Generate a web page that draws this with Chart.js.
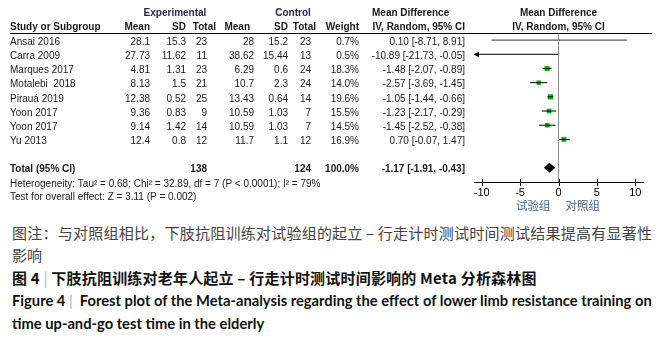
<!DOCTYPE html>
<html>
<head>
<meta charset="utf-8">
<script src="https://cdn.jsdelivr.net/npm/chart.js@4/dist/chart.umd.min.js"></script>
<style>
body{margin:0;background:#fff;width:668px;height:338px;overflow:hidden;position:relative;}
#c{position:absolute;left:0;top:0;}
.cap{position:absolute;left:12px;width:640px;margin:0;}
#note{top:222px;font:15px/22px "Noto Sans CJK SC",sans-serif;color:#444;text-align:justify;}
#title{top:267px;font:bold 15px/22px "Noto Sans CJK SC",sans-serif;color:#111;white-space:nowrap;letter-spacing:0.2px;}
#fig{top:289px;font:bold 13.5px/23px Lato,"Open Sans",sans-serif;color:#111;white-space:nowrap;}
.bar{color:#9bb3d3;font-weight:normal;}
</style>
</head>
<body>
<canvas id="c" width="668" height="215"></canvas>
<div class="cap" id="note">图注：与对照组相比，下肢抗阻训练对试验组的起立 – 行走计时测试时间测试结果提高有显著性影响</div>
<div class="cap" id="title">图 4 <span class="bar">|</span> 下肢抗阻训练对老年人起立 – 行走计时测试时间影响的 Meta 分析森林图</div>
<div class="cap" id="fig"><span id="fig1">Figure 4 <span class="bar">|</span> &nbsp;Forest plot of the Meta-analysis regarding the effect of lower limb resistance training on</span><br>time up-and-go test time in the elderly</div>
<script>
// study data
var studies = ['Ansai 2016', 'Carra 2009', 'Marques 2017', 'Motalebi  2018', 'Pirauá 2019', 'Yoon 2017', 'Yoon 2017', 'Yu 2013'];
var expMean = [28.1, 27.73, 4.81, 8.13, 12.38, 9.36, 9.14, 12.4];
var expSD = [15.3, 11.62, 1.31, 1.5, 0.52, 0.83, 1.42, 0.8];
var expTotal = [23, 11, 23, 21, 25, 9, 14, 12];
var ctlMean = [28, 38.62, 6.29, 10.7, 13.43, 10.59, 10.59, 11.7];
var ctlSD = [15.2, 15.44, 0.6, 2.3, 0.64, 1.03, 1.03, 1.1];
var ctlTotal = [23, 13, 24, 24, 14, 7, 7, 12];
var weights = [0.7, 0.5, 18.3, 14.0, 19.6, 15.5, 14.5, 16.9];
var md = [0.10, -10.89, -1.48, -2.57, -1.05, -1.23, -1.45, 0.70];
var ciLow = [-8.71, -21.73, -2.07, -3.69, -1.44, -2.17, -2.52, -0.07];
var ciHigh = [8.91, -0.05, -0.89, -1.45, -0.66, -0.29, -0.38, 1.47];

// pooled result
var totalExp = 138;
var totalCtl = 124;
var totalMd = [-1.17, -1.91, -0.43];
var heterogeneity = 'Heterogeneity: Tau² = 0.68; Chi² = 32.89, df = 7 (P < 0.0001); I² = 79%';
var overall = 'Test for overall effect: Z = 3.11 (P = 0.002)';

var tickVals = [-10, -5, 0, 5, 10];
var totalRow = 9;

var F = '"Liberation Sans", Arial, sans-serif';

function ciText(m, lo, hi) {
  return m.toFixed(2) + ' [' + lo.toFixed(2) + ', ' + hi.toFixed(2) + ']';
}

var datasets = [];
// line of no effect
datasets.push({
  data: [{x: 0, y: -0.5}, {x: 0, y: 10}],
  showLine: true, borderColor: '#8c8c8c', borderWidth: 1, pointRadius: 0
});
// confidence intervals
studies.forEach(function (s, i) {
  datasets.push({
    data: [{x: ciLow[i], y: i}, {x: ciHigh[i], y: i}],
    showLine: true, borderColor: i == 0 ? '#333' : '#000', borderWidth: 1, pointRadius: 0
  });
});
// study squares
datasets.push({
  data: md.map(function (v, i) { return {x: v, y: i}; }),
  pointStyle: 'rect',
  pointRadius: weights.map(function (w) { return Math.sqrt(w) * 0.85; }),
  backgroundColor: '#0fb20f', borderColor: '#0fb20f', borderWidth: 0,
  clip: false
});

var forestPlugin = {
  id: 'forestTable',
  afterDatasetsDraw: function (chart) {
    var ctx = chart.ctx, x = chart.scales.x, y = chart.scales.y;
    function txt(s, px, py, align, font, color) {
      ctx.font = font;
      ctx.fillStyle = color || '#1a1a1a';
      ctx.textAlign = align;
      ctx.textBaseline = 'middle';
      ctx.fillText(s, px, py);
    }
    var reg = '10px ' + F, bold = 'bold 10px ' + F;
    var zero = x.getPixelForValue(0);
    ctx.save();

    // arrows for intervals running off the axis
    ciLow.forEach(function (lo, i) {
      var py = Math.round(y.getPixelForValue(i)) + 0.5;
      if (lo < x.min) {
        ctx.fillStyle = '#000';
        ctx.beginPath();
        ctx.moveTo(x.left, py);
        ctx.lineTo(x.left + 5, py - 3);
        ctx.lineTo(x.left + 5, py + 3);
        ctx.closePath();
        ctx.fill();
      }
    });

    // pooled diamond
    var dy = y.getPixelForValue(totalRow);
    ctx.fillStyle = '#000';
    ctx.beginPath();
    ctx.moveTo(x.getPixelForValue(totalMd[1]), dy);
    ctx.lineTo(x.getPixelForValue(totalMd[0]), dy - 5);
    ctx.lineTo(x.getPixelForValue(totalMd[2]), dy);
    ctx.lineTo(x.getPixelForValue(totalMd[0]), dy + 5);
    ctx.closePath();
    ctx.fill();

    // axis ticks crossing the axis line
    ctx.strokeStyle = '#000';
    ctx.lineWidth = 1;
    tickVals.forEach(function (v) {
      var px = Math.round(x.getPixelForValue(v)) + 0.5;
      ctx.beginPath();
      ctx.moveTo(px, y.bottom - 3);
      ctx.lineTo(px, y.bottom + 4);
      ctx.stroke();
    });

    // header
    txt('Experimental', 175, 13, 'center', bold, '#2d2650');
    txt('Control', 293, 13, 'center', bold, '#2d2650');
    txt('Mean Difference', 372, 13, 'left', bold);
    txt('Mean Difference', zero, 13, 'center', bold);
    txt('Study or Subgroup', 10, 27, 'left', bold);
    txt('Mean', 150, 27, 'right', bold);
    txt('SD', 186, 27, 'right', bold);
    txt('Total', 216, 27, 'right', bold);
    txt('Mean', 250, 27, 'right', bold);
    txt('SD', 288, 27, 'right', bold);
    txt('Total', 316, 27, 'right', bold);
    txt('Weight', 359, 27, 'right', bold);
    txt('IV, Random, 95% CI', 465, 27, 'right', bold);
    txt('IV, Random, 95% CI', zero, 27, 'center', bold);
    ctx.strokeStyle = '#000';
    ctx.beginPath();
    ctx.moveTo(10, Math.round(y.top) + 0.5);
    ctx.lineTo(652, Math.round(y.top) + 0.5);
    ctx.stroke();

    // study rows
    studies.forEach(function (s, i) {
      var py = y.getPixelForValue(i) + 2;
      txt(s, 10, py, 'left', reg);
      txt(String(expMean[i]), 150, py, 'right', reg);
      txt(String(expSD[i]), 186, py, 'right', reg);
      txt(String(expTotal[i]), 207, py, 'right', reg);
      txt(String(ctlMean[i]), 254, py, 'right', reg);
      txt(String(ctlSD[i]), 288, py, 'right', reg);
      txt(String(ctlTotal[i]), 311, py, 'right', reg);
      txt(weights[i].toFixed(1) + '%', 359, py, 'right', reg);
      txt(ciText(md[i], ciLow[i], ciHigh[i]), 465, py, 'right', reg);
    });

    // total rows
    var ty = y.getPixelForValue(totalRow) + 1.5;
    txt('Total (95% CI)', 10, ty, 'left', bold);
    txt(String(totalExp), 207, ty, 'right', bold);
    txt(String(totalCtl), 311, ty, 'right', bold);
    txt('100.0%', 359, ty, 'right', bold);
    txt(ciText(totalMd[0], totalMd[1], totalMd[2]), 465, ty, 'right', bold);
    txt(heterogeneity, 10, ty + 14.5, 'left', reg);
    txt(overall, 10, ty + 28, 'left', reg);

    // favours labels
    txt('试验组', zero - 8, 206, 'right', '11.5px "Noto Sans CJK SC", sans-serif', '#4f6189');
    txt('对照组', zero + 7, 206, 'left', '11.5px "Noto Sans CJK SC", sans-serif', '#4f6189');
    ctx.restore();
  }
};

new Chart(document.getElementById('c'), {
  type: 'scatter',
  data: {datasets: datasets},
  plugins: [forestPlugin],
  options: {
    responsive: false,
    animation: false,
    devicePixelRatio: 1,
    layout: {padding: {left: 474, right: 25, top: 33, bottom: 0}},
    plugins: {legend: {display: false}, tooltip: {enabled: false}},
    scales: {
      x: {
        type: 'linear', min: -11, max: 11,
        afterBuildTicks: function (scale) {
          scale.ticks = tickVals.map(function (v) { return {value: v}; });
        },
        afterFit: function (scale) { scale.height = 33; },
        grid: {display: false, drawTicks: false},
        border: {display: true, color: '#000', width: 1},
        ticks: {color: '#000', font: {family: F, size: 11}, padding: 4, maxRotation: 0, autoSkip: false}
      },
      y: {type: 'linear', reverse: true, min: -0.5, max: 10, display: false}
    }
  }
});

// fit the english caption line to the text block width
var f1 = document.getElementById('fig1');
var fig = document.getElementById('fig');
var fs = 13.5 * 640 / f1.getBoundingClientRect().width;
fig.style.fontSize = fs.toFixed(2) + 'px';
</script>
</body>
</html>
